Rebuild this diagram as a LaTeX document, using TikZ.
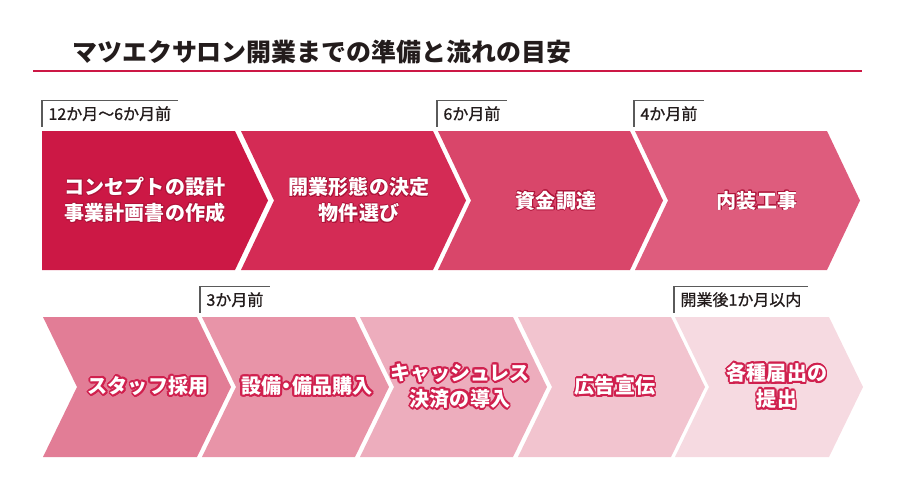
\documentclass[tikz,border=0pt]{standalone}
\usepackage{fontspec}
\setmainfont{Noto Sans CJK JP}
\newfontfamily\periodfont[FakeBold=1]{Noto Sans CJK JP}
\usepackage{contour}
\usepackage{tikz}

\definecolor{crimson}{RGB}{204,24,69}
\definecolor{stepA}{RGB}{204,24,69}
\definecolor{stepB}{RGB}{212,43,85}
\definecolor{stepC}{RGB}{217,70,106}
\definecolor{stepD}{RGB}{222,92,125}
\definecolor{stepE}{RGB}{226,125,150}
\definecolor{stepF}{RGB}{232,148,168}
\definecolor{stepG}{RGB}{237,173,189}
\definecolor{stepH}{RGB}{242,196,207}
\definecolor{stepI}{RGB}{246,218,225}
\definecolor{inkgray}{RGB}{35,28,28}
\definecolor{rulegray}{RGB}{90,90,90}
\definecolor{topedge}{RGB}{175,20,58}
\definecolor{botedge}{RGB}{208,32,78}

\newcommand{\toptxt}[1]{\contourlength{0.45pt}\contour{topedge}{#1}}
\newcommand{\bottxt}[1]{\contourlength{1.1pt}\contour{botedge}{#1}}

\begin{document}
\begin{tikzpicture}[x=0.2mm,y=-0.2mm,
	steptext/.style={text=white,font=\fontsize{11.4}{14.8}\selectfont\bfseries,align=center,inner sep=0pt},
	period/.style={anchor=south west,text=inkgray,font=\fontsize{9.1}{10}\selectfont\periodfont,inner xsep=3.5pt,inner ysep=0pt,minimum height=14.8pt},
	bracket/.style={draw=rulegray,line width=0.8pt}]
	\useasboundingbox (0,0) rectangle (900,500);

	\node[anchor=west,text=inkgray,font=\fontsize{14.2}{16}\selectfont\bfseries] (title) at (66,52) {マツエクサロン開業までの準備と流れの目安};
	\draw[crimson,line width=1.7pt] (33,71) -- (862,71);

	\fill[stepA] (42,131) -- (235,131) -- (268,200.5) -- (235,270) -- (42,270) -- cycle;
	\fill[stepB] (241,131) -- (433,131) -- (466,200.5) -- (433,270) -- (241,270) -- (274,200.5) -- cycle;
	\fill[stepC] (438,131) -- (630,131) -- (663,200.5) -- (630,270) -- (438,270) -- (471,200.5) -- cycle;
	\fill[stepD] (635,131) -- (827,131) -- (860,200.5) -- (827,270) -- (635,270) -- (668,200.5) -- cycle;

	\fill[stepE] (43,317) -- (197,317) -- (231,387) -- (197,457) -- (43,457) -- (77,387) -- cycle;
	\fill[stepF] (202,317) -- (355,317) -- (389,387) -- (355,457) -- (202,457) -- (236,387) -- cycle;
	\fill[stepG] (360,317) -- (513,317) -- (547,387) -- (513,457) -- (360,457) -- (394,387) -- cycle;
	\fill[stepH] (518,317) -- (671,317) -- (705,387) -- (671,457) -- (518,457) -- (552,387) -- cycle;
	\fill[stepI] (675,317) -- (829,317) -- (863,387) -- (829,457) -- (675,457) -- (709,387) -- cycle;

	\node[steptext] (concept) at (145,200.5) {\toptxt{コンセプトの設計}\\\toptxt{事業計画書の作成}};
	\node[steptext] (keitai) at (359,200.5) {\toptxt{開業形態の決定}\\\toptxt{物件選び}};
	\node[steptext] (shikin) at (556,201) {\toptxt{資金調達}};
	\node[steptext] (naiso) at (757,201) {\toptxt{内装工事}};

	\node[steptext] (staff) at (148,387) {\bottxt{スタッフ採用}};
	\node[steptext] (setsubi) at (307,387) {\bottxt{設備\kern-0.22em・\kern-0.22em備品購入}};
	\node[steptext] (cashless) at (460,387) {\bottxt{キャッシュレス}\\\bottxt{決済の導入}};
	\node[steptext] (kokoku) at (615,387) {\bottxt{広告宣伝}};
	\node[steptext] (todoke) at (777,387) {\bottxt{各種届出の}\\\bottxt{提出}};

	\node[period] (m12) at (42,127) {12か月〜6か月前};
	\node[period] (m6) at (437,127) {6か月前};
	\node[period] (m4) at (634,127) {4か月前};
	\node[period] (m3) at (200,313) {3か月前};
	\node[period] (after) at (674,313) {開業後1か月以内};

	\draw[bracket] (m12.north east) -- (m12.north west) -- (m12.south west);
	\draw[bracket] (m6.north east) -- (m6.north west) -- (m6.south west);
	\draw[bracket] (m4.north east) -- (m4.north west) -- (m4.south west);
	\draw[bracket] (m3.north east) -- (m3.north west) -- (m3.south west);
	\draw[bracket] (after.north east) -- (after.north west) -- (after.south west);
\end{tikzpicture}
\end{document}
